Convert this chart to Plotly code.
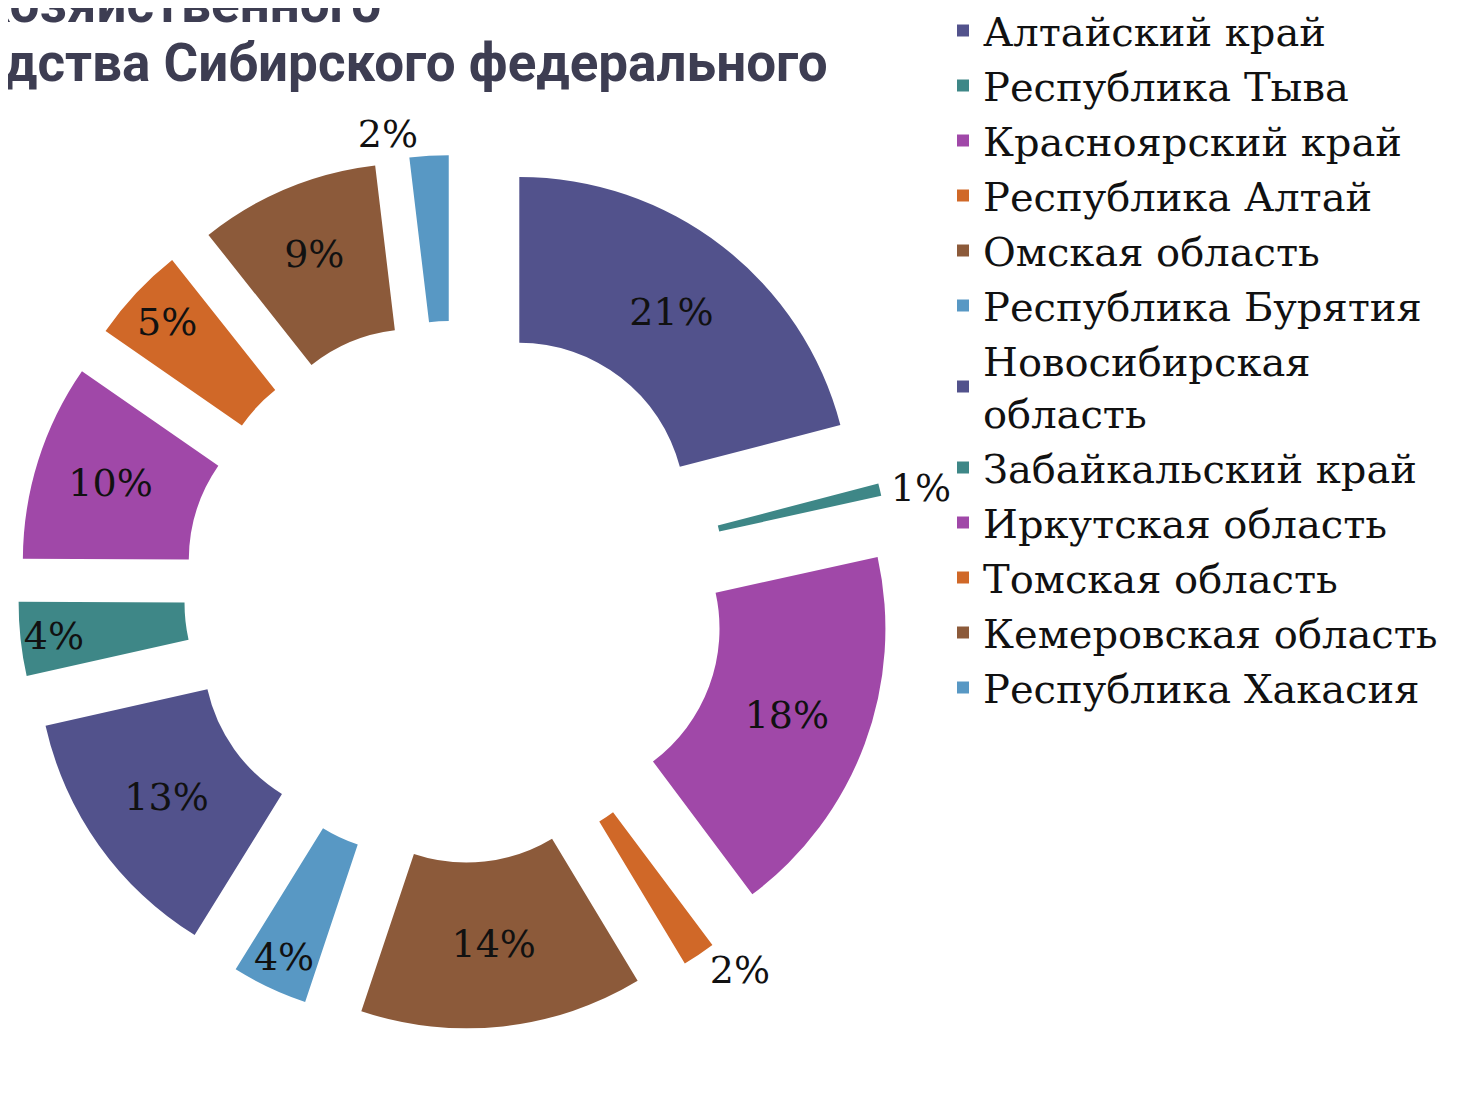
import plotly.graph_objects as go

regions = ["Алтайский край", "Республика Тыва", "Красноярский край", "Республика Алтай",
           "Омская область", "Республика Бурятия", "Новосибирская<br>область",
           "Забайкальский край", "Иркутская область", "Томская область",
           "Кемеровская область", "Республика Хакасия"]
shares = [21.0, 0.6, 18.3, 1.6, 13.8, 3.7, 12.7, 3.6, 9.6, 4.7, 8.8, 1.9]
colors = ["#52528c", "#3e8787", "#a048a8", "#d06828", "#8c5a3a", "#5898c4",
          "#52528c", "#3e8787", "#a048a8", "#d06828", "#8c5a3a", "#5898c4"]
label_pos = ["inside", "outside", "inside", "outside", "inside", "inside",
             "inside", "inside", "inside", "inside", "inside", "outside"]
title_lines = ["сельскохозяйственного", "производства Сибирского федерального"]

W, H = 1466, 1100
cx, cy, half = 447, 584, 437

fig = go.Figure(go.Pie(
    labels=regions, values=shares, sort=False, direction="clockwise", rotation=0,
    hole=0.5, pull=0.317,
    marker=dict(colors=colors, line=dict(width=0)),
    texttemplate="%{percent:.0%}", textposition=label_pos,
    insidetextorientation="horizontal",
    insidetextfont=dict(family="DejaVu Serif", size=38, color="#111111"),
    outsidetextfont=dict(family="DejaVu Serif", size=38, color="#111111"),
    domain=dict(x=[(cx - half) / W, (cx + half) / W],
                y=[1 - (cy + half) / H, 1 - (cy - half) / H]),
    hoverinfo="label+percent",
))

title_font = dict(family="Roboto", size=53, color="#3d3d52", weight="bold")
fig.update_layout(
    width=W, height=H,
    margin=dict(l=0, r=0, t=0, b=0, autoexpand=False),
    paper_bgcolor="white", plot_bgcolor="white",
    uniformtext=dict(minsize=38, mode="show"),
    legend=dict(x=935 / W, xanchor="left", y=1 + 10 / H, yanchor="top",
                maxheight=1100,
                font=dict(family="DejaVu Serif", size=40, color="#111111"),
                itemwidth=30, tracegroupgap=0, bgcolor="rgba(0,0,0,0)"),
    annotations=[
        dict(text=title_lines[0], x=375 / W, y=1 + 4 / H, xref="paper", yref="paper",
             xanchor="right", yanchor="middle", showarrow=False, font=title_font),
        dict(text=title_lines[1], x=822 / W, y=1 - 55 / H, xref="paper", yref="paper",
             xanchor="right", yanchor="middle", showarrow=False, font=title_font),
    ],
)

fig.write_html("out.html")
